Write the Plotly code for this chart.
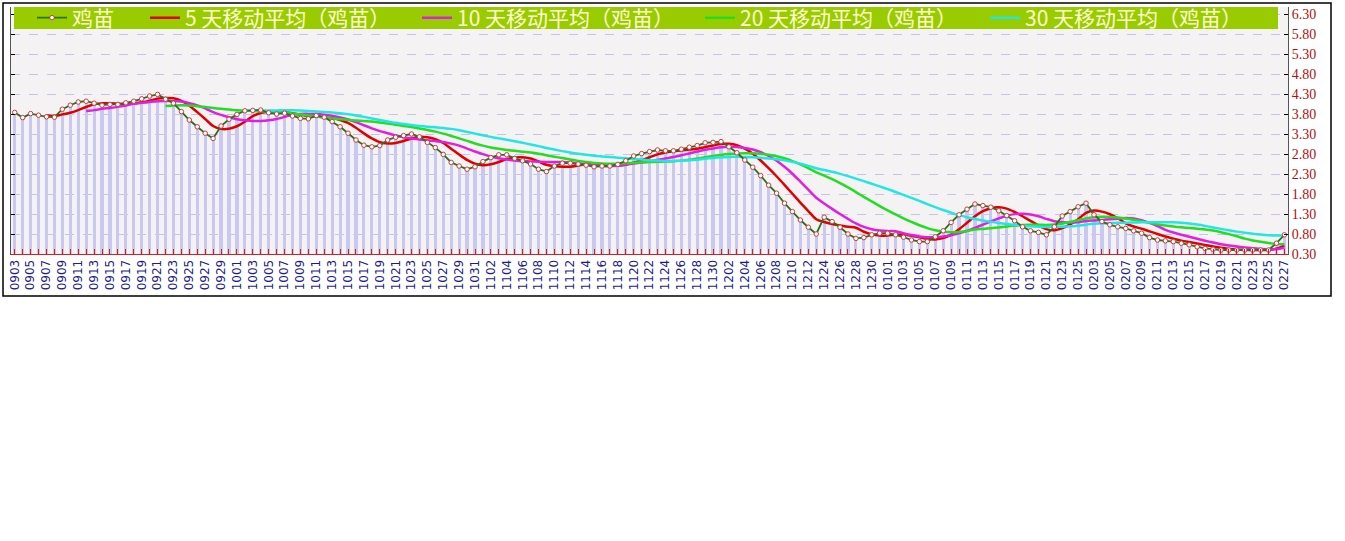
import plotly.graph_objects as go
import pandas as pd

# trading days shown on the x axis (label every second day)
dates = (
    "0903 0904 0905 0906 0907 0908 0909 0910 0911 0912 0913 0914 0915 0916 "
    "0917 0918 0919 0920 0921 0922 0923 0924 0925 0926 0927 0928 0929 0930 "
    "1001 1002 1003 1004 1005 1006 1007 1008 1009 1010 1011 1012 1013 1014 "
    "1015 1016 1017 1018 1019 1020 1021 1022 1023 1024 1025 1026 1027 1028 "
    "1029 1030 1031 "
    "1101 1102 1103 1104 1105 1106 1107 1108 1109 1110 1111 1112 1113 1114 "
    "1115 1116 1117 1118 1119 1120 1121 1122 1123 1124 1125 1126 1127 1128 "
    "1129 1130 "
    "1201 1202 1203 1204 1205 1206 1207 1208 1209 1210 1211 1212 1213 "
    "1224 1225 1226 1227 1228 1229 1230 1231 "
    "0101 0102 0103 0104 0105 0106 0107 0108 0109 0110 0111 0112 0113 0114 "
    "0115 0116 0117 0118 0119 0120 0121 0122 0123 0124 0125 0126 "
    "0203 0204 0205 0206 0207 0208 0209 0210 0211 0212 0213 0214 0215 0216 "
    "0217 0218 0219 0220 0221 0222 0223 0224 0225 0226 0227"
).split()

# 鸡苗 price (yuan / chick)
price = [
    3.84, 3.71, 3.81, 3.77, 3.73, 3.72, 3.92, 4.02, 4.10, 4.12,
    4.07, 4.02, 4.04, 4.04, 4.08, 4.12, 4.18, 4.25, 4.29, 4.17,
    4.07, 3.86, 3.65, 3.48, 3.32, 3.19, 3.50, 3.67, 3.79, 3.88,
    3.89, 3.90, 3.83, 3.80, 3.82, 3.75, 3.69, 3.68, 3.76, 3.72,
    3.61, 3.48, 3.32, 3.15, 3.02, 2.98, 3.01, 3.15, 3.22, 3.26,
    3.30, 3.23, 3.09, 2.96, 2.79, 2.59, 2.50, 2.42, 2.48, 2.61,
    2.71, 2.78, 2.78, 2.69, 2.63, 2.55, 2.42, 2.36, 2.50, 2.57,
    2.57, 2.55, 2.52, 2.48, 2.50, 2.50, 2.54, 2.63, 2.75, 2.81,
    2.86, 2.90, 2.88, 2.88, 2.92, 2.97, 3.01, 3.08, 3.09, 3.11,
    2.98, 2.83, 2.65, 2.47, 2.26, 2.02, 1.82, 1.57, 1.36, 1.15,
    0.97, 0.80, 1.22, 1.11, 0.97, 0.80, 0.69, 0.71, 0.78, 0.82,
    0.82, 0.78, 0.72, 0.65, 0.61, 0.61, 0.73, 0.88, 1.09, 1.28,
    1.42, 1.55, 1.51, 1.47, 1.38, 1.26, 1.13, 0.98, 0.88, 0.84,
    0.78, 0.98, 1.25, 1.36, 1.48, 1.57, 1.28, 1.11, 1.03, 0.98,
    0.94, 0.88, 0.82, 0.71, 0.65, 0.63, 0.61, 0.57, 0.53, 0.48,
    0.44, 0.42, 0.40, 0.40, 0.40, 0.40, 0.40, 0.40, 0.40, 0.57,
    0.78,
]

ma_windows = [5, 10, 20, 30]
ma_colors = ["#e00000", "#e020e0", "#22dd22", "#22e6e6"]
y_ticks = [0.30, 0.80, 1.30, 1.80, 2.30, 2.80, 3.30, 3.80, 4.30, 4.80, 5.30, 5.80, 6.30]

# where each legend entry's text starts (px from the left of the picture)
legend_text_x = [72, 185, 457, 740, 1025]

s = pd.Series(price)

fig = go.Figure()

# light lavender bars under the line
fig.add_trace(go.Bar(x=dates, y=price, width=0.4,
                     marker=dict(color="rgb(200,200,242)", line_width=0),
                     showlegend=False, hoverinfo="skip"))

for k, (w, c) in enumerate(zip(ma_windows, ma_colors)):
    fig.add_trace(go.Scatter(x=dates, y=s.rolling(w).mean(), mode="lines",
                             name=str(w) + " 天移动平均（鸡苗）",
                             line=dict(color=c, width=2.5, shape="spline", smoothing=0.8),
                             legend="legend" + str(k + 2)))

fig.add_trace(go.Scatter(x=dates, y=price, mode="lines+markers", name="鸡苗",
                         line=dict(color="#2a7018", width=1.8),
                         marker=dict(symbol="circle", size=4.5, color="white",
                                     line=dict(color="#c04040", width=1)),
                         legend="legend"))

# plot area: x 11..1288, y 7..254 px
W, H = 1345, 541
L, R, T, B = 11, 1288, 7, 254
pw, ph = R - L, B - T

legend_font = dict(family="Noto Sans CJK SC", size=21, color="#ffffcc")
legends = {}
for k, tx in enumerate(legend_text_x):
    key = "legend" if k == 0 else "legend" + str(k + 1)
    legends[key] = dict(orientation="h", xref="container", yref="container",
                        x=(tx - 40) / W, xanchor="left",
                        y=1 - 18 / H, yanchor="middle",
                        bgcolor="rgba(0,0,0,0)", borderwidth=0,
                        font=legend_font, itemwidth=30)

fig.update_layout(
    width=W, height=H,
    margin=dict(l=L, r=W - R, t=T, b=H - B, autoexpand=False),
    paper_bgcolor="white",
    plot_bgcolor="#f4f2f2",
    bargap=0,
    showlegend=True,
    shapes=[
        # green legend band
        dict(type="rect", xref="paper", yref="paper", layer="above",
             x0=(14 - L) / pw, x1=(1278 - L) / pw, y0=1 - 22 / ph, y1=1,
             fillcolor="#99cc00", line_width=0),
        # outer frame
        dict(type="rect", xref="paper", yref="paper",
             x0=(3 - L) / pw, x1=(1331 - L) / pw,
             y0=-(296 - B) / ph, y1=1 + (T - 3) / ph,
             line=dict(color="black", width=1.5), fillcolor="rgba(0,0,0,0)"),
    ],
    font=dict(family="DejaVu Sans"),
    **legends,
)

fig.update_xaxes(
    type="category",
    range=[-0.47, len(dates) - 0.55],
    tickmode="array", tickvals=dates,
    ticktext=[d if i % 2 == 0 else "" for i, d in enumerate(dates)],
    tickangle=-90,
    tickfont=dict(family="DejaVu Sans", size=12, color="#1c1c8c"),
    ticks="inside", ticklen=5, tickcolor="#d02020", tickwidth=1,
    showline=True, linecolor="#d02020", linewidth=1,
    showgrid=False, zeroline=False,
)

fig.update_yaxes(
    side="right",
    range=[0.30, 0.30 + ph / 40],
    tickmode="array", tickvals=y_ticks,
    ticktext=["%.2f" % v for v in y_ticks],
    tickfont=dict(family="Liberation Serif", size=14, color="#b01010"),
    ticks="inside", ticklen=4, tickcolor="black",
    showline=True, linecolor="#555555", linewidth=1, mirror="ticks",
    showgrid=True, gridcolor="#c4c4e4", griddash="dash", gridwidth=1,
    zeroline=False,
)

# drop the browser's default 8px page margin so the chart sits at the top-left
fig.write_html("out.html", config={"displayModeBar": False},
               post_script="document.body.style.margin='0';")
